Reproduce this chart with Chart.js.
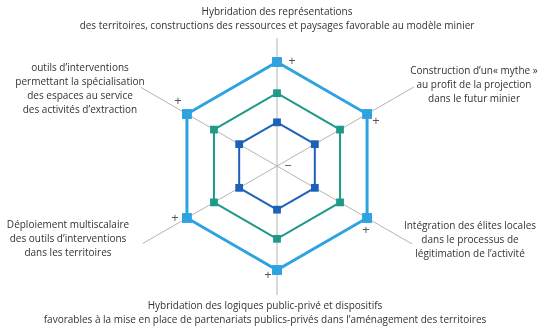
<!DOCTYPE html>
<html>
<head>
<meta charset="utf-8">
<script src="https://cdn.jsdelivr.net/npm/chart.js@4/dist/chart.umd.min.js"></script>
<style>
  html, body { margin: 0; padding: 0; background: #ffffff; }
  #zone { width: 544px; height: 329px; }
</style>
</head>
<body>
<div id="zone"><canvas id="radar" width="544" height="329"></canvas></div>
<script>
// Axes, dans l'ordre de Chart.js (haut, puis sens horaire)
const categories = [
    ['Hybridation des représentations', 'des territoires, constructions des ressources et paysages favorable au modèle minier'],
    ['Construction d\u2019un\u00ab mythe \u00bb', 'au profit de la projection', 'dans le futur minier'],
    ['Intégration des élites locales', 'dans le processus de', 'légitimation de l\u2019activité'],
    ['Hybridation des logiques public-privé et dispositifs', 'favorables à la mise en place de partenariats publics-privés dans l\u2019aménagement des territoires'],
    ['Déploiement multiscalaire', 'des outils d\u2019interventions', 'dans les territoires'],
    ['outils d\u2019interventions', 'permettant la spécialisation', 'des espaces au service', 'des activités d\u2019extraction']
];

const serieExterne = [100, 100, 100, 100, 100, 100];
const serieMilieu = [70, 70, 70, 70, 70, 70];
const serieInterne = [42, 42, 42, 42, 42, 42];

const tickPlus = '+';
const tickMoins = '\u2212';

/* Mise en page des étiquettes (position du centre du bloc de texte) */
const posLabels = [
    { x: 277, y: 12 },
    { x: 474, y: 71 },
    { x: 470, y: 226 },
    { x: 265, y: 306 },
    { x: 68, y: 225 },
    { x: 80, y: 68 }
];
const longueurAxes = [128, 158, 156, 129, 155, 157];
// décalage des "+" par rapport aux sommets de la série externe
const decalPlus = [[15, -1], [9, 7], [-1, 12], [-9, 5], [-12, 0], [-9, -13]];

const pluginDecor = {
    id: 'decor',
    beforeDatasetsDraw(chart) {
        const scale = chart.scales.r;
        const ctx = chart.ctx;
        ctx.save();
        ctx.strokeStyle = '#b4b4b4';
        ctx.lineWidth = 1;
        categories.forEach((c, i) => {
            const p = scale.getPointPosition(i, longueurAxes[i]);
            ctx.beginPath();
            ctx.moveTo(scale.xCenter, scale.yCenter);
            ctx.lineTo(p.x, p.y);
            ctx.stroke();
        });
        ctx.restore();
    },
    afterDatasetsDraw(chart) {
        const scale = chart.scales.r;
        const ctx = chart.ctx;
        ctx.save();
        ctx.fillStyle = '#555555';
        ctx.font = '13px "Open Sans"';
        ctx.textAlign = 'center';
        ctx.textBaseline = 'middle';
        categories.forEach((c, i) => {
            const p = scale.getPointPosition(i, scale.getDistanceFromCenterForValue(100));
            ctx.fillText(tickPlus, p.x + decalPlus[i][0], p.y + decalPlus[i][1]);
        });
        ctx.fillText(tickMoins, scale.xCenter + 11, scale.yCenter);

        ctx.fillStyle = '#333333';
        ctx.font = '10px "Open Sans"';
        categories.forEach((lignes, i) => {
            lignes.forEach((t, k) => {
                ctx.fillText(t, posLabels[i].x, posLabels[i].y + k * 14);
            });
        });
        ctx.restore();
    }
};

function serie(data, couleur, epaisseur, rayon) {
    return {
        data: data,
        borderColor: couleur,
        backgroundColor: 'rgba(0,0,0,0)',
        borderWidth: epaisseur,
        pointStyle: 'rect',
        pointRadius: rayon,
        pointBackgroundColor: couleur,
        pointBorderColor: couleur,
        pointBorderWidth: 0,
        fill: false
    };
}

new Chart(document.getElementById('radar'), {
    type: 'radar',
    data: {
        labels: categories,
        datasets: [
            serie(serieExterne, '#2ea3df', 3, 7),
            serie(serieMilieu, '#1f9a88', 2, 5.5),
            serie(serieInterne, '#1d62b8', 2, 5.5)
        ]
    },
    options: {
        responsive: false,
        animation: false,
        layout: { padding: { top: 62, bottom: 59, left: 100, right: 90 } },
        plugins: { legend: { display: false }, tooltip: { enabled: false } },
        scales: {
            r: {
                min: 0,
                max: 100,
                ticks: { display: false },
                grid: { display: false },
                angleLines: { display: false },
                pointLabels: { display: false }
            }
        }
    },
    plugins: [pluginDecor]
});
</script>
</body>
</html>
